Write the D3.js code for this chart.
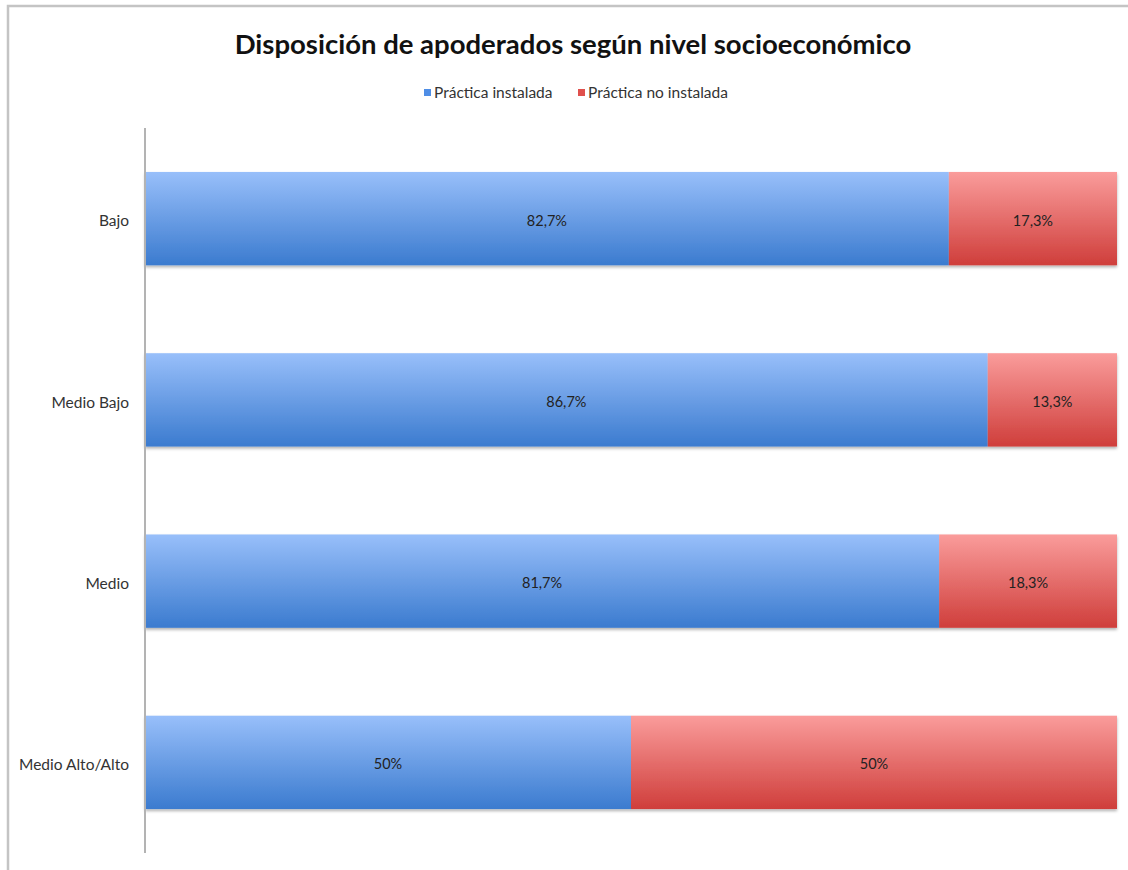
<!DOCTYPE html>
<html><head><meta charset="utf-8">
<script src="https://cdn.jsdelivr.net/npm/d3@7"></script>
<style>html,body{margin:0;padding:0;background:#fff;}</style>
</head><body>
<svg id="chart" width="1128" height="870"></svg>
<script>
const categories = ["Bajo", "Medio Bajo", "Medio", "Medio Alto/Alto"];
const seriesNames = ["Práctica instalada", "Práctica no instalada"];
const instalada = [82.7, 86.7, 81.7, 50];
const noInstalada = [17.3, 13.3, 18.3, 50];
const labelsInstalada = ["82,7%", "86,7%", "81,7%", "50%"];
const labelsNoInstalada = ["17,3%", "13,3%", "18,3%", "50%"];
const title = "Disposición de apoderados según nivel socioeconómico";

const svg = d3.select("#chart");
const font = "Lato, 'Open Sans', sans-serif";

// outer frame
svg.append("path").attr("d", "M8,870 V6 H1128").attr("fill","none").attr("stroke","#c4c4c4").attr("stroke-width",2.5);

const defs = svg.append("defs");
const gradB = defs.append("linearGradient").attr("id","gB").attr("x1",0).attr("y1",0).attr("x2",0).attr("y2",1);
gradB.append("stop").attr("offset","0%").attr("stop-color","#98bffa");
gradB.append("stop").attr("offset","100%").attr("stop-color","#3b7bcf");
const gradR = defs.append("linearGradient").attr("id","gR").attr("x1",0).attr("y1",0).attr("x2",0).attr("y2",1);
gradR.append("stop").attr("offset","0%").attr("stop-color","#fa9c9b");
gradR.append("stop").attr("offset","100%").attr("stop-color","#cf3e3b");
const filt = defs.append("filter").attr("id","sh").attr("x","-5%").attr("y","-5%").attr("width","110%").attr("height","120%");
filt.append("feDropShadow").attr("dx",0).attr("dy",2).attr("stdDeviation",1.5).attr("flood-color","#000").attr("flood-opacity",0.3);

const x = d3.scaleLinear().domain([0,100]).range([145,1117]);
const y = d3.scaleBand().domain(categories).range([128,853]).paddingInner(0.485).paddingOuter(0.2425);

const rows = categories.map((c,i)=>({c, a:instalada[i], b:noInstalada[i], la:labelsInstalada[i], lb:labelsNoInstalada[i]}));

const g = svg.append("g");
g.selectAll("g.row").data(rows).join("g").attr("class","row").attr("filter","url(#sh)").each(function(d){
  const s = d3.select(this);
  s.append("rect").attr("x",x(0)).attr("y",y(d.c)).attr("width",x(d.a)-x(0)).attr("height",y.bandwidth()).attr("fill","url(#gB)");
  s.append("rect").attr("x",x(d.a)).attr("y",y(d.c)).attr("width",x(d.a+d.b)-x(d.a)).attr("height",y.bandwidth()).attr("fill","url(#gR)");
});
g.selectAll("text.la").data(rows).join("text").attr("class","la")
  .attr("x",d=>(x(0)+x(d.a))/2).attr("y",d=>y(d.c)+y.bandwidth()/2 + 2).attr("dy","0.35em")
  .attr("text-anchor","middle").attr("font-family",font).attr("font-size",14.5).attr("fill","#222").text(d=>d.la);
g.selectAll("text.lb").data(rows).join("text").attr("class","lb")
  .attr("x",d=>(x(d.a)+x(d.a+d.b))/2).attr("y",d=>y(d.c)+y.bandwidth()/2 + 2).attr("dy","0.35em")
  .attr("text-anchor","middle").attr("font-family",font).attr("font-size",14.5).attr("fill","#222").text(d=>d.lb);

// y axis
const ax = svg.append("g").attr("transform","translate(145,0)").call(d3.axisLeft(y).tickSize(0).tickPadding(16));
ax.select(".domain").attr("stroke","#b3b3b3").attr("stroke-width",2).attr("d","M0,128V853");
ax.selectAll("text").attr("font-family",font).attr("font-size",15.5).attr("fill","#333").attr("dy","0.5em");

// title
svg.append("text").attr("x",573).attr("y",54).attr("text-anchor","middle").attr("font-family",font)
  .attr("font-weight","bold").attr("font-size",27.5).attr("fill","#111").text(title);

// legend
const colors = ["#4f8ee6","#e0504d"];
const legX = [424, 578];
const leg = svg.append("g").selectAll("g").data(seriesNames).join("g").attr("transform",(d,i)=>`translate(${legX[i]},0)`);
leg.append("rect").attr("x",0).attr("y",89).attr("width",7).attr("height",7).attr("fill",(d,i)=>colors[i]);
leg.append("text").attr("x",10).attr("y",93).attr("dy","0.35em").attr("font-family",font).attr("font-size",15.5).attr("fill","#333").text(d=>d);
</script>
</body></html>
